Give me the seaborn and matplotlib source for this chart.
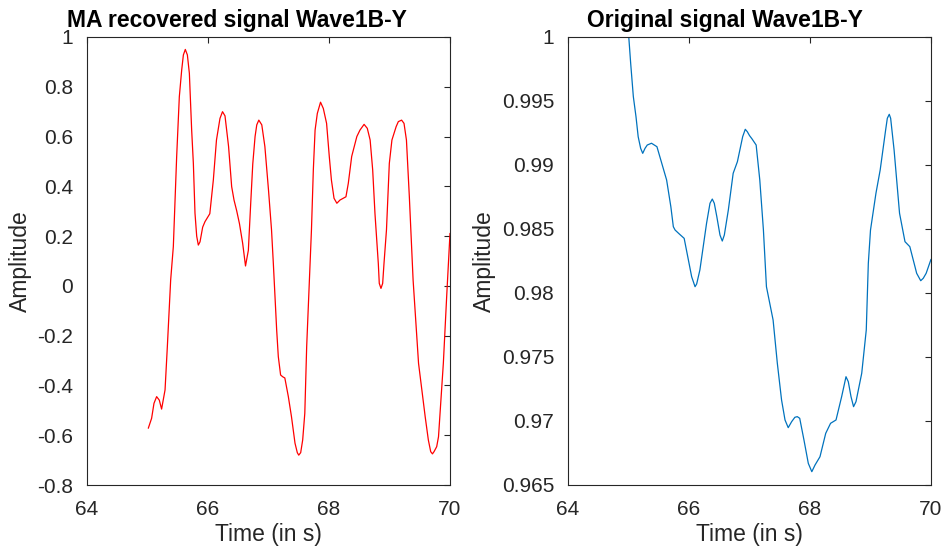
import matplotlib
matplotlib.use("Agg")
import matplotlib.pyplot as plt
import seaborn as sns
import pandas as pd

# MA recovered signal
t_ma = [65.013, 65.068, 65.107, 65.151, 65.195, 65.233, 65.29, 65.328, 65.383, 65.427,
        65.482, 65.526, 65.565, 65.593, 65.625, 65.659, 65.692, 65.73, 65.758, 65.785,
        65.813, 65.84, 65.868, 65.912, 65.95, 66.03, 66.088, 66.14, 66.198, 66.24,
        66.281, 66.34, 66.391, 66.43, 66.474, 66.52, 66.573, 66.62, 66.667, 66.706,
        66.74, 66.778, 66.806, 66.84, 66.889, 66.94, 67.0, 67.05, 67.08, 67.135,
        67.162, 67.2, 67.234, 67.27, 67.328, 67.38, 67.438, 67.476, 67.50, 67.532,
        67.565, 67.60, 67.631, 67.71, 67.741, 67.77, 67.807, 67.86, 67.906, 67.96,
        68.005, 68.04, 68.083, 68.13, 68.182, 68.28, 68.319, 68.375, 68.46, 68.512,
        68.58, 68.633, 68.68, 68.722, 68.76, 68.815, 68.831, 68.859, 68.887, 68.909,
        68.95, 68.997, 69.04, 69.11, 69.146, 69.20, 69.24, 69.28, 69.328, 69.39,
        69.48, 69.59, 69.642, 69.681, 69.71, 69.736, 69.78, 69.81, 69.89, 69.945, 70.0]
v_ma = [-0.572, -0.532, -0.472, -0.445, -0.459, -0.495, -0.418, -0.244, 0.024, 0.158,
        0.519, 0.76, 0.867, 0.928, 0.95, 0.928, 0.854, 0.626, 0.492, 0.292,
        0.20, 0.164, 0.177, 0.236, 0.258, 0.29, 0.425, 0.586, 0.673, 0.70,
        0.683, 0.56, 0.399, 0.345, 0.302, 0.25, 0.171, 0.08, 0.143, 0.332,
        0.49, 0.60, 0.647, 0.666, 0.647, 0.56, 0.385, 0.225, 0.09, -0.177,
        -0.284, -0.358, -0.365, -0.37, -0.445, -0.526, -0.632, -0.670, -0.68, -0.670,
        -0.619, -0.512, -0.244, 0.225, 0.466, 0.626, 0.693, 0.738, 0.713, 0.653,
        0.519, 0.425, 0.352, 0.332, 0.345, 0.358, 0.412, 0.52, 0.6, 0.626,
        0.649, 0.633, 0.586, 0.466, 0.29, 0.09, 0.01, -0.01, 0.01, 0.09,
        0.225, 0.492, 0.586, 0.64, 0.66, 0.666, 0.653, 0.586, 0.358, 0.024,
        -0.311, -0.526, -0.619, -0.666, -0.675, -0.666, -0.646, -0.606, -0.311, -0.043, 0.211]

# Original signal
t_orig = [65.0, 65.036, 65.08, 65.124, 65.16, 65.201, 65.235, 65.273, 65.31, 65.38,
          65.47, 65.55, 65.63, 65.70, 65.741, 65.77, 65.84, 65.92, 65.99, 66.044,
          66.10, 66.127, 66.18, 66.29, 66.347, 66.385, 66.418, 66.46, 66.512, 66.55,
          66.584, 66.65, 66.73, 66.80, 66.887, 66.93, 66.964, 67.0, 67.04, 67.11,
          67.17, 67.23, 67.28, 67.39, 67.46, 67.53, 67.587, 67.64, 67.697, 67.75,
          67.79, 67.83, 67.90, 67.972, 68.03, 68.083, 68.165, 68.26, 68.34, 68.43,
          68.523, 68.595, 68.633, 68.678, 68.72, 68.76, 68.855, 68.93, 68.964, 69.0,
          69.09, 69.16, 69.25, 69.278, 69.31, 69.333, 69.39, 69.48, 69.57, 69.65,
          69.735, 69.763, 69.83, 69.872, 69.92, 70.0]
v_orig = [1.0003, 0.99794, 0.99534, 0.99377, 0.99221, 0.99130, 0.99091, 0.99130, 0.99156, 0.9917,
          0.99143, 0.99013, 0.98883, 0.98674, 0.98518, 0.98492, 0.98461, 0.98427, 0.98258, 0.98127,
          0.98049, 0.98071, 0.9818, 0.98544, 0.98701, 0.98734, 0.98701, 0.98596, 0.98453, 0.98406,
          0.98453, 0.98648, 0.98935, 0.99026, 0.99221, 0.99279, 0.99260, 0.9923, 0.99205, 0.99156,
          0.98883, 0.98492, 0.98049, 0.97789, 0.97451, 0.97164, 0.97008, 0.96948, 0.96995, 0.97029,
          0.97034, 0.97021, 0.96852, 0.96669, 0.96604, 0.96656, 0.96721, 0.96904, 0.96982, 0.97008,
          0.9719, 0.97346, 0.97307, 0.9719, 0.97112, 0.97151, 0.97373, 0.97711, 0.98232, 0.98492,
          0.98779, 0.98961, 0.99273, 0.99365, 0.99396, 0.99365, 0.99117, 0.98623, 0.98401, 0.98362,
          0.98206, 0.98154, 0.98096, 0.98115, 0.98154, 0.98263]

x_ticks = [64, 66, 68, 70]
ma_yticks = [-0.8, -0.6, -0.4, -0.2, 0, 0.2, 0.4, 0.6, 0.8, 1]
ma_ylabels = ["-0.8", "-0.6", "-0.4", "-0.2", "0", "0.2", "0.4", "0.6", "0.8", "1"]
orig_yticks = [0.965, 0.97, 0.975, 0.98, 0.985, 0.99, 0.995, 1.0]
orig_ylabels = ["0.965", "0.97", "0.975", "0.98", "0.985", "0.99", "0.995", "1"]

sns.set_style("white")
plt.rcParams["font.family"] = ["Liberation Sans", "DejaVu Sans"]

fig = plt.figure(figsize=(9.45, 5.5), dpi=100)
ax1 = fig.add_axes([87 / 945, 1 - 485 / 550, 363 / 945, 448 / 550])
ax2 = fig.add_axes([568 / 945, 1 - 485 / 550, 363 / 945, 448 / 550])

df1 = pd.DataFrame({"t": t_ma, "v": v_ma})
df2 = pd.DataFrame({"t": t_orig, "v": v_orig})
sns.lineplot(data=df1, x="t", y="v", ax=ax1, color="#FF0000", linewidth=0.9)
sns.lineplot(data=df2, x="t", y="v", ax=ax2, color="#0072BD", linewidth=0.9)

axc = "#262626"
for ax, yt, yl, ylim, title, tx in [
    (ax1, ma_yticks, ma_ylabels, (-0.8, 1.0), "MA recovered signal Wave1B-Y", 0.412),
    (ax2, orig_yticks, orig_ylabels, (0.965, 1.0), "Original signal Wave1B-Y", 0.4325),
]:
    ax.set_xlim(64, 70)
    ax.set_ylim(*ylim)
    ax.set_xticks(x_ticks)
    ax.set_xticklabels([str(x) for x in x_ticks])
    ax.set_yticks(yt)
    ax.set_yticklabels(yl)
    ax.tick_params(direction="in", length=4, width=0.8, colors=axc,
                   labelsize=15, top=True, right=True)
    ax.tick_params(axis="x", pad=11)
    ax.tick_params(axis="y", pad=10)
    for s in ax.spines.values():
        s.set_color(axc)
        s.set_linewidth(0.8)
        s.set_visible(True)
    ax.set_xlabel("Time (in s)", fontsize=16.5, color=axc, labelpad=3)
    ax.set_ylabel("Amplitude", fontsize=16.5, color=axc, labelpad=4)
    ax.set_title(title, fontsize=16.5, fontweight="bold", color="black", pad=7, x=tx)

fig.savefig("out.png", dpi=100)
